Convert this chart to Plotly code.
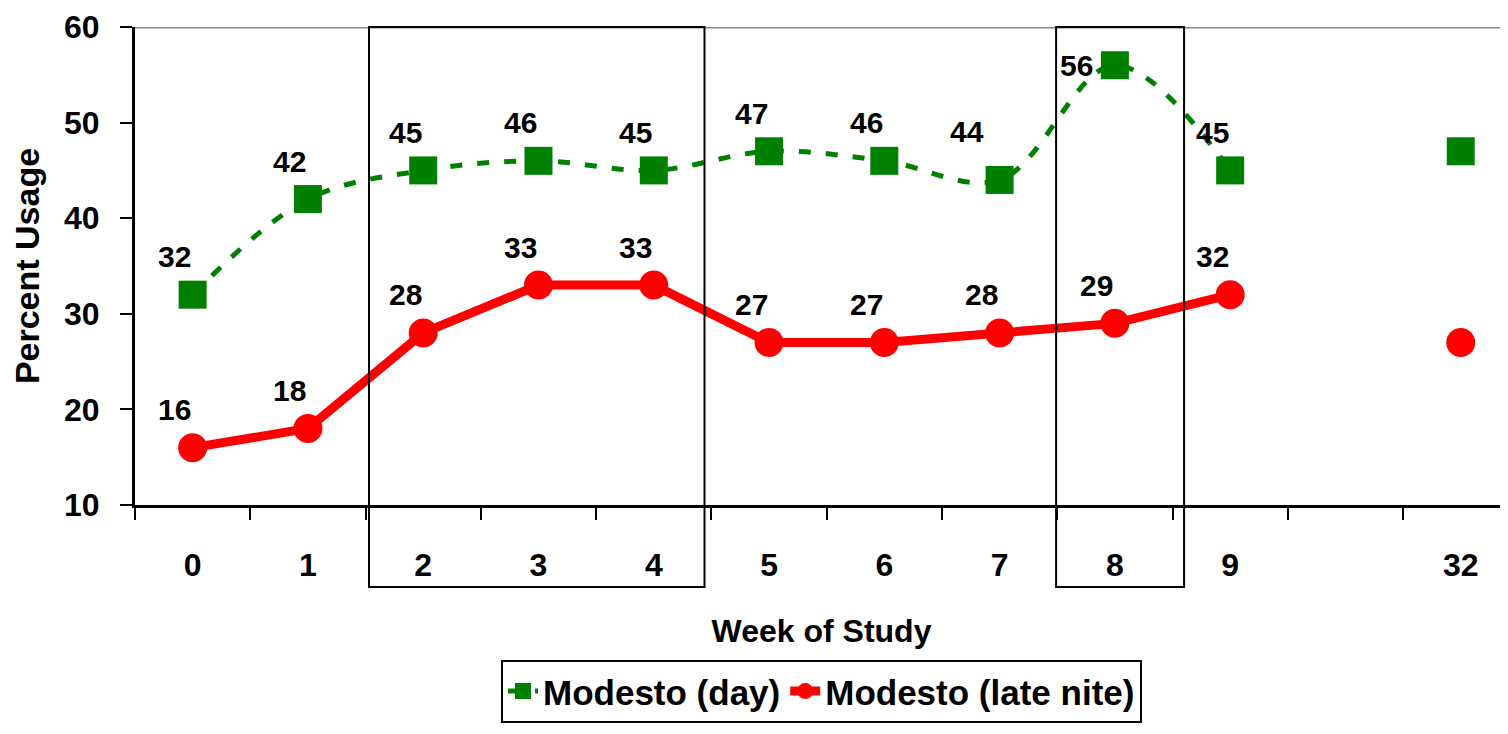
import plotly.graph_objects as go

# ── Data ───────────────────────────────────────────────────────────────────────
weeks = ["0", "1", "2", "3", "4", "5", "6", "7", "8", "9", "32"]
day_usage = [32, 42, 45, 46, 45, 47, 46, 44, 56, 45, 47]
nite_usage = [16, 18, 28, 33, 33, 27, 27, 28, 29, 32, 27]
y_ticks = [10, 20, 30, 40, 50, 60]

# ── Theme ──────────────────────────────────────────────────────────────────────
FONT = "Liberation Sans, Arial, sans-serif"
GREEN = "#008000"
RED = "#ff0000"
BLACK = "#000000"

# an empty slot between week 9 and week 32 breaks the lines
GAP = " "
cats = weeks[:10] + [GAP] + weeks[10:]
day_y = day_usage[:10] + [None] + day_usage[10:]
nite_y = nite_usage[:10] + [None] + nite_usage[10:]

fig = go.Figure()

fig.add_trace(go.Scatter(
    x=cats, y=day_y, mode="lines+markers", name="Modesto (day)",
    line=dict(color=GREEN, width=5, dash="12px,15px", shape="spline", smoothing=1),
    marker=dict(symbol="square", size=28, color=GREEN),
))
fig.add_trace(go.Scatter(
    x=cats, y=nite_y, mode="lines+markers", name="Modesto (late nite)",
    line=dict(color=RED, width=9),
    marker=dict(symbol="circle", size=29, color=RED),
))

# value labels, sitting up and left of each marker
label_font = dict(family=FONT, size=30, color=BLACK, weight="bold")
special = {("day", "8"): (-38, 0), ("day", "7"): (-33, 48)}
for key, vals in (("day", day_usage), ("nite", nite_usage)):
    for w, v in zip(weeks, vals):
        dx, dy = special.get((key, w), (-18, 38))
        fig.add_annotation(x=w, y=v, text=str(v), showarrow=False,
                           xshift=dx, yshift=dy, font=label_font)

# highlight boxes around weeks 2-4 and week 8 (reach down over the tick labels)
for x0, x1 in ((1.53, 4.44), (7.49, 8.6)):
    fig.add_shape(type="rect", xref="x", yref="paper", x0=x0, x1=x1, y0=-0.1715, y1=1.0,
                  line=dict(color=BLACK, width=2), fillcolor="rgba(0,0,0,0)", layer="above")

# grey top frame line
fig.add_shape(type="line", xref="paper", yref="y", x0=0, x1=1, y0=60, y1=60,
              line=dict(color="#888888", width=3), layer="below")

fig.update_layout(
    template="none",
    width=1500, height=718,
    paper_bgcolor="white", plot_bgcolor="white",
    margin=dict(l=127, r=0, t=19, b=221),
    font=dict(family=FONT, color=BLACK),
    showlegend=True,
    legend=dict(
        orientation="h", x=0.5, xanchor="center", y=-0.324, yanchor="top",
        font=dict(family=FONT, size=35, color=BLACK, weight="bold"),
        bordercolor=BLACK, borderwidth=2, bgcolor="white",
    ),
    xaxis=dict(
        type="category", categoryorder="array", categoryarray=cats,
        range=[-0.5, 11.41], tickson="boundaries",
        showgrid=False, zeroline=False,
        showline=True, linecolor=BLACK, linewidth=3,
        ticks="outside", ticklen=12, tickwidth=2, tickcolor=BLACK,
        tickfont=dict(family=FONT, size=32, color=BLACK, weight="bold"),
        ticklabelstandoff=30,
        title=dict(text="Week of Study", standoff=38,
                   font=dict(family=FONT, size=32, color=BLACK, weight="bold")),
    ),
    yaxis=dict(
        range=[10, 60], tickvals=y_ticks,
        showgrid=False, zeroline=False,
        showline=True, linecolor=BLACK, linewidth=3,
        ticks="outside", ticklen=12, tickwidth=2, tickcolor=BLACK,
        tickfont=dict(family=FONT, size=32, color=BLACK, weight="bold"),
        ticklabelstandoff=14,
        title=dict(text="Percent Usage", standoff=20,
                   font=dict(family=FONT, size=34, color=BLACK, weight="bold")),
    ),
)

fig.write_html("out.html")
